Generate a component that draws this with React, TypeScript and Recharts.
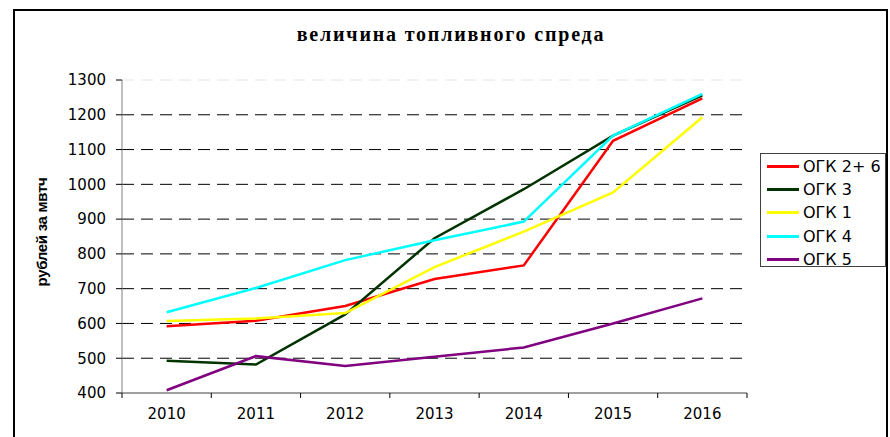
import React from 'react';
import { LineChart, Line, XAxis, YAxis, CartesianGrid, Legend, ReferenceLine } from 'recharts';

const years = ['2010', '2011', '2012', '2013', '2014', '2015', '2016'];
const ogk26 = [592, 608, 650, 728, 767, 1125, 1247];
const ogk3 = [493, 482, 626, 845, 986, 1140, 1256];
const ogk1 = [607, 614, 630, 762, 864, 977, 1193];
const ogk4 = [632, 702, 782, 839, 893, 1140, 1260];
const ogk5 = [408, 506, 478, 504, 531, 600, 672];
const yTicks = [400, 500, 600, 700, 800, 900, 1000, 1100, 1200, 1300];

const seriesDefs = [
  { key: 'ogk26', name: 'ОГК 2+ 6', color: '#FF0000', values: ogk26 },
  { key: 'ogk3', name: 'ОГК 3', color: '#003300', values: ogk3 },
  { key: 'ogk1', name: 'ОГК 1', color: '#FFFF00', values: ogk1 },
  { key: 'ogk4', name: 'ОГК 4', color: '#00FFFF', values: ogk4 },
  { key: 'ogk5', name: 'ОГК 5', color: '#800080', values: ogk5 },
];

const data = years.map((y, i) => {
  const row: any = { year: y };
  seriesDefs.forEach((s) => (row[s.key] = s.values[i]));
  return row;
});

const W = 890;
const H = 437;
const PLOT_LEFT = 122;
const PLOT_RIGHT = 747;
const BAND = (PLOT_RIGHT - PLOT_LEFT) / years.length;
const FONT = '"DejaVu Sans", sans-serif';

const XTick = (props: any) => {
  const { x, y, payload, index } = props;
  const axisY = y - 8;
  return (
    <g>
      <line x1={x - BAND / 2} x2={x - BAND / 2} y1={axisY} y2={axisY + 5} stroke="#000" />
      {index === years.length - 1 && (
        <line x1={x + BAND / 2} x2={x + BAND / 2} y1={axisY} y2={axisY + 5} stroke="#000" />
      )}
      <text x={x} y={axisY + 26} textAnchor="middle" fontFamily={FONT} fontSize={15} fill="#000">
        {payload.value}
      </text>
    </g>
  );
};

const LegendBox = () => (
  <div
    style={{
      width: 126,
      height: 114,
      border: '1px solid #404040',
      background: '#fff',
      boxSizing: 'border-box',
      paddingTop: 1,
    }}
  >
    {seriesDefs.map((s) => (
      <div key={s.key} style={{ display: 'flex', alignItems: 'center', height: 23.2 }}>
        <div style={{ width: 32, height: 3, background: s.color, marginLeft: 6, marginRight: 4 }} />
        <span style={{ fontFamily: FONT, fontSize: 16, color: '#000', whiteSpace: 'nowrap' }}>{s.name}</span>
      </div>
    ))}
  </div>
);

const YLabel = () => (
  <text
    x={41}
    y={232}
    transform="rotate(-90 41 232)"
    textAnchor="middle"
    dominantBaseline="central"
    fontFamily='"Liberation Sans", Arial, sans-serif'
    fontWeight="bold"
    fontSize={15}
    letterSpacing={-0.3}
    fill="#000"
  >
    рублей за мвтч
  </text>
);

export default function App() {
  return (
    <div style={{ position: 'absolute', left: 0, top: 0, width: W, height: H, background: '#fff', overflow: 'hidden' }}>
      <div
        style={{
          position: 'absolute',
          left: 13,
          top: 9,
          width: 875,
          height: 450,
          border: '2px solid #000',
          boxSizing: 'border-box',
        }}
      />
      <div
        style={{
          position: 'absolute',
          left: 0,
          top: 23,
          width: W,
          textAlign: 'center',
          fontFamily: '"Liberation Serif", "Times New Roman", serif',
          fontWeight: 'bold',
          fontSize: 20,
          letterSpacing: 1.8,
          paddingLeft: 12,
          boxSizing: 'border-box',
        }}
      >
        величина топливного спреда
      </div>
      <div style={{ position: 'absolute', left: 0, top: 0 }}>
        <LineChart width={W} height={H} data={data} margin={{ top: 80, right: 143, bottom: 14, left: 62 }}>
          <CartesianGrid
            vertical={false}
            horizontalValues={yTicks.filter((t) => t !== 400 && t !== 1300)}
            stroke="#000"
            strokeDasharray="12 7"
          />
          <ReferenceLine y={1300} stroke="#e4e4e4" strokeDasharray="12 7" />
          <XAxis
            dataKey="year"
            scale="band"
            height={30}
            axisLine={{ stroke: '#404040' }}
            tickLine={false}
            tickSize={6}
            tickMargin={2}
            tick={<XTick />}
            interval={0}
          />
          <YAxis
            width={60}
            domain={[400, 1300]}
            ticks={yTicks}
            interval={0}
            axisLine={{ stroke: '#808080' }}
            tickLine={{ stroke: '#000' }}
            tickSize={6}
            tickMargin={10}
            tick={{ fontFamily: FONT, fontSize: 15, fill: '#000' }}
            label={<YLabel />}
          />
          <Legend
            layout="vertical"
            align="center"
            verticalAlign="middle"
            content={<LegendBox />}
            wrapperStyle={{ left: 760, top: 153, width: 126, height: 114 }}
          />
          {seriesDefs.map((s) => (
            <Line
              key={s.key}
              dataKey={s.key}
              name={s.name}
              stroke={s.color}
              strokeWidth={2.5}
              dot={false}
              activeDot={false}
              isAnimationActive={false}
            />
          ))}
        </LineChart>
      </div>
    </div>
  );
}
